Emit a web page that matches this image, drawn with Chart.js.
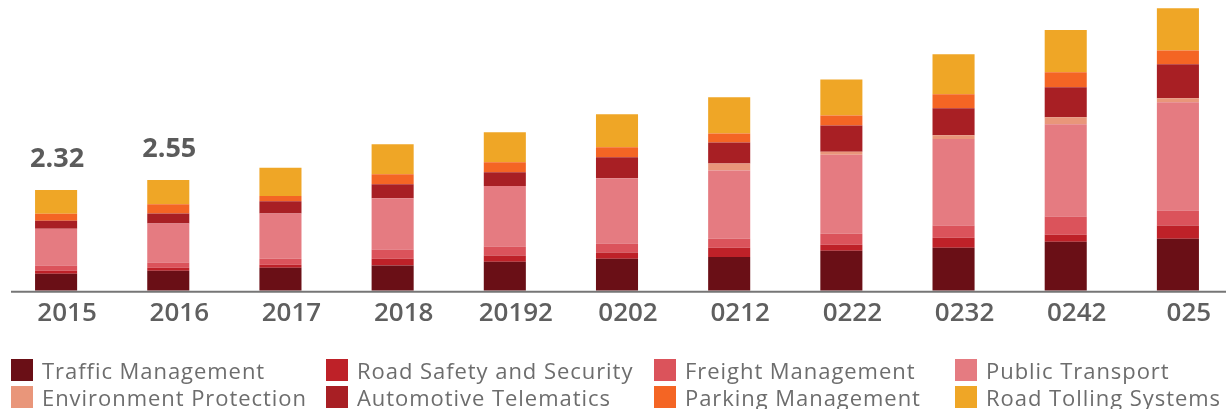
<!DOCTYPE html>
<html>
<head>
<meta charset="utf-8">
<script src="https://cdn.jsdelivr.net/npm/chart.js@4"></script>
<style>
  html, body { margin: 0; padding: 0; background: #fff; overflow: hidden; }
  #wrap { position: relative; width: 1234px; height: 336px; }
  #legend { position: absolute; left: 0; top: 0; width: 1226px; height: 409px; pointer-events: none;
            font-family: 'Open Sans', sans-serif; font-size: 22px; color: #6d6d6d; letter-spacing: 0.95px; }
  .item { position: absolute; display: flex; align-items: center; height: 22px; white-space: nowrap; }
  .box { width: 22px; height: 22px; margin-right: 9px; flex: none; }
</style>
</head>
<body>
<div id="wrap"><canvas id="chart"></canvas></div>
<div id="legend"></div>
<script>
// years as printed under the bars (the source image has them garbled)
const years = ['2015', '2016', '2017', '2018', '20192', '0202', '0212', '0222', '0232', '0242', '025']

// values per segment, bottom to top of each stack
const trafficManagement = [0.39, 0.46, 0.53, 0.58, 0.67, 0.74, 0.78, 0.92, 0.99, 1.13, 1.20]
const roadSafety = [0.07, 0.07, 0.07, 0.16, 0.14, 0.14, 0.21, 0.14, 0.23, 0.16, 0.30]
const freightManagement = [0.12, 0.12, 0.14, 0.21, 0.21, 0.21, 0.21, 0.25, 0.28, 0.42, 0.35]
const publicTransport = [0.85, 0.90, 1.04, 1.18, 1.39, 1.50, 1.57, 1.82, 1.99, 2.12, 2.49]
const environmentProtection = [0, 0, 0, 0, 0, 0, 0.16, 0.07, 0.09, 0.16, 0.09]
const automotiveTelematics = [0.18, 0.23, 0.28, 0.32, 0.32, 0.48, 0.48, 0.60, 0.62, 0.69, 0.78]
const parkingManagement = [0.16, 0.21, 0.12, 0.23, 0.23, 0.23, 0.21, 0.23, 0.32, 0.35, 0.32]
const roadTolling = [0.55, 0.56, 0.65, 0.69, 0.69, 0.76, 0.83, 0.83, 0.92, 0.97, 0.97]

// totals printed above the first bars
const totalLabels = ['2.32', '2.55']

const series = [
  ['Traffic Management', trafficManagement, '#6a0f16'],
  ['Road Safety and Security', roadSafety, '#be2128'],
  ['Freight Management', freightManagement, '#db535b'],
  ['Public Transport', publicTransport, '#e57b81'],
  ['Environment Protection', environmentProtection, '#e9967a'],
  ['Automotive Telematics', automotiveTelematics, '#a81f24'],
  ['Parking Management', parkingManagement, '#f46524'],
  ['Road Tolling Systems', roadTolling, '#efa626']
]

const extras = {
  id: 'extras',
  afterDatasetsDraw(chart) {
    const ctx = chart.ctx
    const y0 = chart.scales.y.getPixelForValue(0)
    ctx.save()
    ctx.strokeStyle = '#767676'
    ctx.lineWidth = 2
    ctx.beginPath()
    ctx.moveTo(11, y0 + 1)
    ctx.lineTo(chart.width, y0 + 1)
    ctx.stroke()

    const top = chart.getDatasetMeta(chart.data.datasets.length - 1)
    ctx.fillStyle = '#5b5b5b'
    ctx.font = 'bold 27px "Open Sans"'
    ctx.textAlign = 'center'
    ctx.textBaseline = 'middle'
    totalLabels.forEach((t, i) => {
      const bar = top.data[i]
      ctx.fillText(t, bar.x + 1, bar.y - 31)
    })
    ctx.restore()
  }
}

const chart = new Chart(document.getElementById('chart'), {
  type: 'bar',
  data: {
    labels: years,
    datasets: series.map(([label, data, color]) => ({
      label: label,
      data: data,
      backgroundColor: color,
      borderWidth: 0,
      barPercentage: 0.375,
      categoryPercentage: 1
    }))
  },
  options: {
    responsive: true,
    maintainAspectRatio: false,
    animation: false,
    layout: { padding: 0 },
    plugins: {
      legend: { display: false },
      tooltip: { enabled: false }
    },
    scales: {
      x: {
        stacked: true,
        grid: { display: false, drawTicks: false },
        border: { display: false },
        ticks: {
          color: '#5f5f5f',
          font: { family: 'Open Sans', size: 26, weight: '600' },
          padding: 7,
          labelOffset: 11,
          maxRotation: 0,
          autoSkip: false
        }
      },
      y: {
        stacked: true,
        display: false,
        min: 0,
        max: 6.69
      }
    }
  },
  plugins: [extras]
})

// legend in four columns, two rows, built from the chart's own legend items
const colX = [11, 326, 654, 955]
const rowY = [359, 386]
const legend = document.getElementById('legend')
Chart.defaults.plugins.legend.labels.generateLabels(chart).forEach((item, i) => {
  const el = document.createElement('div')
  el.className = 'item'
  el.style.left = colX[i % 4] + 'px'
  el.style.top = rowY[Math.floor(i / 4)] + 'px'
  const box = document.createElement('span')
  box.className = 'box'
  box.style.background = item.fillStyle
  const txt = document.createElement('span')
  txt.textContent = item.text
  el.append(box, txt)
  legend.append(el)
})
</script>
</body>
</html>
